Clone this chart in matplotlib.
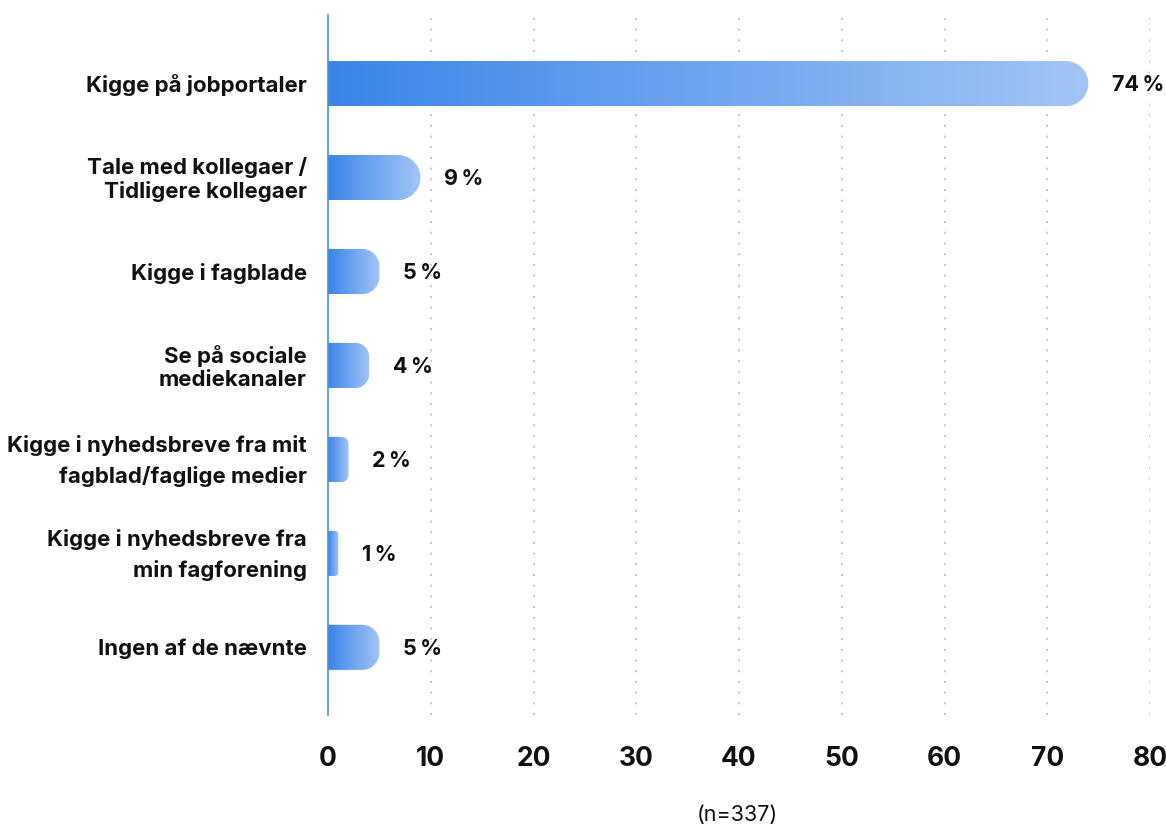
import numpy as np
import matplotlib
matplotlib.use('Agg')
import matplotlib.pyplot as plt
from matplotlib.path import Path
from matplotlib.patches import PathPatch
from matplotlib.colors import LinearSegmentedColormap

plt.rcParams['font.family'] = ['Inter', 'DejaVu Sans']

categories = ['Kigge på jobportaler',
              'Tale med kollegaer /\nTidligere kollegaer',
              'Kigge i fagblade',
              'Se på sociale\nmediekanaler',
              'Kigge i nyhedsbreve fra mit\nfagblad/faglige medier',
              'Kigge i nyhedsbreve fra\nmin fagforening',
              'Ingen af de nævnte']
values = [74, 9, 5, 4, 2, 1, 5]
line_gap = [1.2, 1.2, 1.2, 1.2, 1.6, 1.6, 1.2]
xticks = [0, 10, 20, 30, 40, 50, 60, 70, 80]
note = '(n=337)'

W, H = 1166, 827
fig = plt.figure(figsize=(W / 100, H / 100), dpi=100)
ax_l, ax_r, ax_t, ax_b = 328, 1150, 15, 715
ax = fig.add_axes([ax_l / W, 1 - ax_b / H, (ax_r - ax_l) / W, (ax_b - ax_t) / H])

xmax = 80
ylo, yhi = -0.73, 6.72
px_x = (ax_r - ax_l) / xmax
px_y = (ax_b - ax_t) / (yhi - ylo)
bar_h = 0.48

cmap = LinearSegmentedColormap.from_list('bar', ['#3a85e8', '#a2c5f5'])
grad = np.linspace(0, 1, 256).reshape(1, -1)


def bar_path(v, yc):
    w_px = v * px_x
    h_px = bar_h * px_y
    r = min(h_px / 2, w_px / 3)
    rx, ry = r / px_x, r / px_y
    y0, y1 = yc - bar_h / 2, yc + bar_h / 2
    pts = [(0, y0), (v - rx, y0)]
    t = np.linspace(-np.pi / 2, 0, 20)
    pts += list(zip(v - rx + rx * np.cos(t), y0 + ry + ry * np.sin(t)))
    t = np.linspace(0, np.pi / 2, 20)
    pts += list(zip(v - rx + rx * np.cos(t), y1 - ry + ry * np.sin(t)))
    pts += [(0, y1), (0, y0)]
    return Path(pts, closed=True)


for i, v in enumerate(values):
    patch = PathPatch(bar_path(v, i), facecolor='none', edgecolor='none')
    ax.add_patch(patch)
    im = ax.imshow(grad, cmap=cmap, aspect='auto', interpolation='bilinear',
                   extent=(0, v, i + bar_h / 2, i - bar_h / 2), zorder=2)
    im.set_clip_path(patch)
    ax.annotate(f'{v}\u2009%', (v, i), xytext=(17, -1), textcoords='offset points',
                ha='left', va='center', fontsize=15.5, fontweight='bold', color='#111111')

ax.set_xlim(0, xmax)
ax.set_ylim(yhi, ylo)
ax.set_xticks(xticks)
ax.set_xticklabels([str(t) for t in xticks], fontsize=19, fontweight='bold', color='#111111')
ax.set_yticks(range(len(categories)))
ax.set_yticklabels([])
for i, c in enumerate(categories):
    ax.text(-21 / px_x, i + 0.02, c, ha='right', va='center', fontsize=16, fontweight='bold',
            color='#111111', linespacing=line_gap[i])
ax.tick_params(axis='both', length=0)
ax.tick_params(axis='x', pad=22)

for t in xticks[1:]:
    ax.axvline(t, color='#c4c4c4', lw=1.4, ls=(0, (1, 4.5)), zorder=1)

for s in ['top', 'right', 'bottom']:
    ax.spines[s].set_visible(False)
ax.spines['left'].set_color('#4a90e8')
ax.spines['left'].set_linewidth(1.2)
ax.spines['left'].set_zorder(3)

fig.text(737 / W, 1 - 815 / H, note, ha='center', va='center', fontsize=15.5, color='#111111')

fig.savefig('out.png', dpi=100)
plt.close()
